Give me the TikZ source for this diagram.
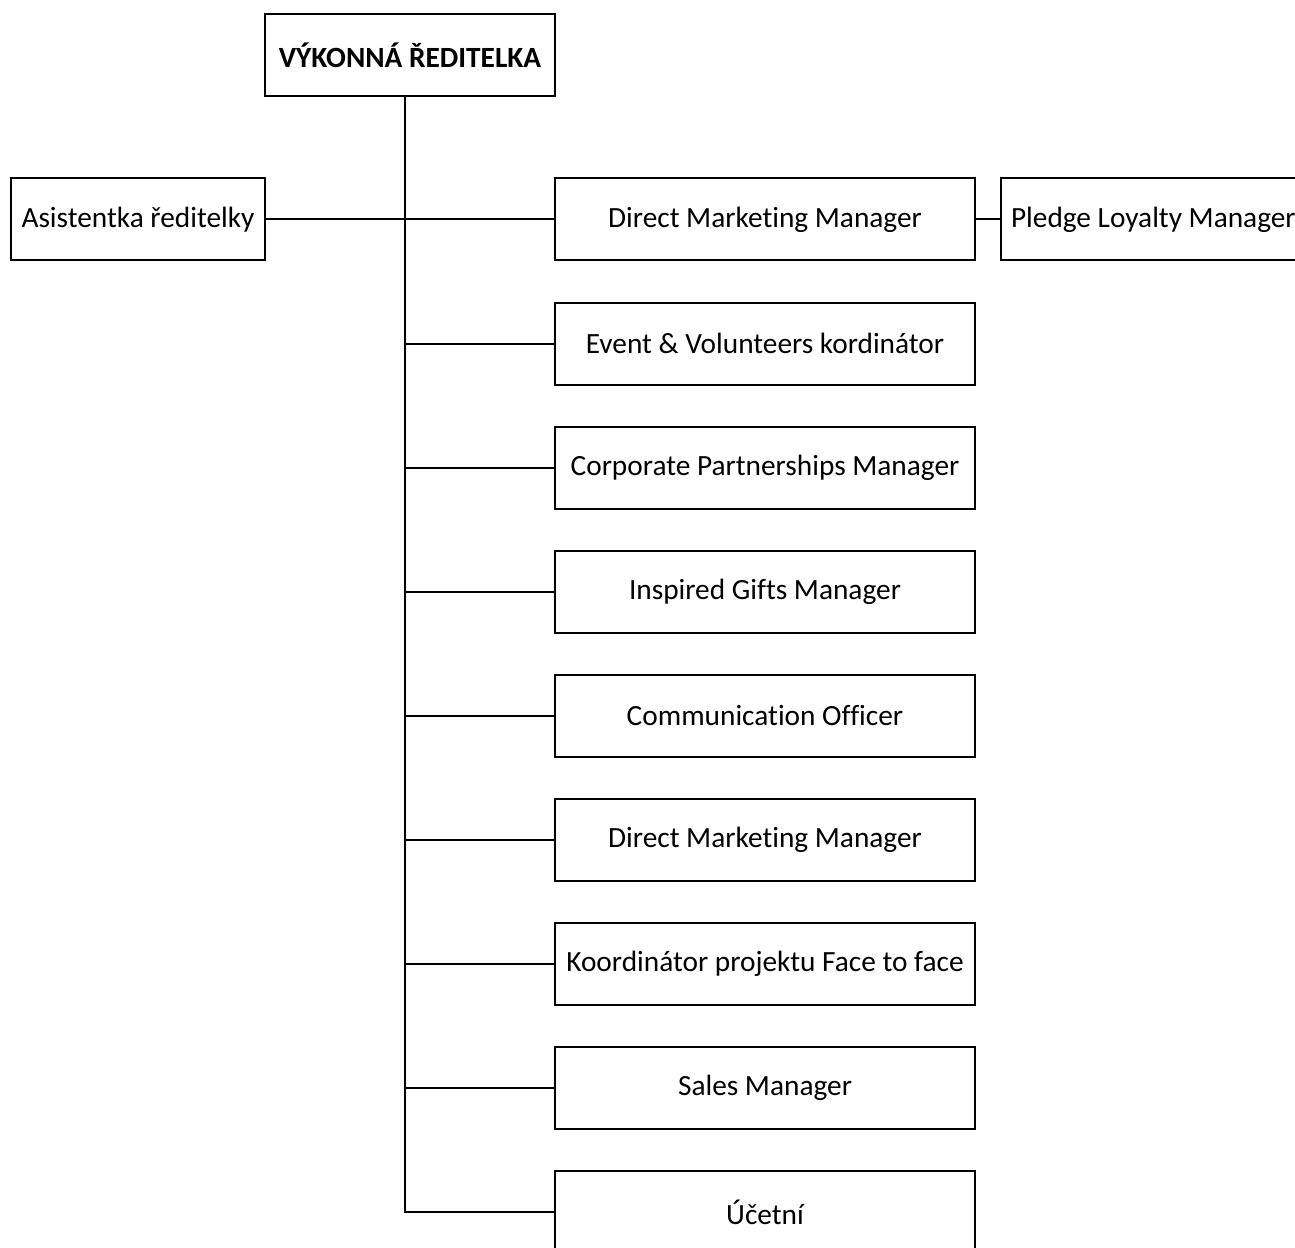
\documentclass[tikz,border=0pt]{standalone}
\usepackage{fontspec}
\setmainfont{Carlito}[Ligatures=NoCommon]
\usepackage{tikz}
\usetikzlibrary{positioning}

\tikzset{
  box/.style={draw, line width=0.75pt, minimum height=30.75pt, inner sep=0pt,
    font=\fontsize{11}{13}\selectfont},
  rolebox/.style={box, minimum width=157.5pt},
  link/.style={line width=0.75pt}
}

\begin{document}
\begin{tikzpicture}[x=0.375pt,y=-0.375pt]
            \useasboundingbox (0,0) rectangle (1295,1248);
            \node[box, minimum width=108.75pt, minimum height=31.1pt, font=\fontsize{11}{13}\selectfont\bfseries]
                (reditelka) at (410,55) {VÝKONNÁ ŘEDITELKA};
            \node[box, minimum width=95.25pt] (asistentka) at (138,219.5) {Asistentka ředitelky};

            \foreach \lab [count=\i] in {Direct Marketing Manager, Event \& Volunteers kordinátor,
                Corporate Partnerships Manager, Inspired Gifts Manager, Communication Officer,
                Direct Marketing Manager, Koordinátor projektu Face to face, Sales Manager, Účetní}
                \node[rolebox] (r\i) at (765,{219.5+124.1*(\i-1)}) {\lab};

            % runs off the right edge
            \node[box, anchor=west, inner xsep=3.75pt] (pledge) at (1000,219.5) {Pledge Loyalty Manager};

            % spine under the director
            \coordinate (spine) at (405,96);
            \draw[link] (spine) |- (r9.west);
            \draw[link] (asistentka.east) -- (spine |- asistentka.east);
            \foreach \i in {1,...,8}
                \draw[link] (spine |- r\i.west) -- (r\i.west);
            \draw[link] (r1.east) -- (pledge.west);
        \end{tikzpicture}
\end{document}
